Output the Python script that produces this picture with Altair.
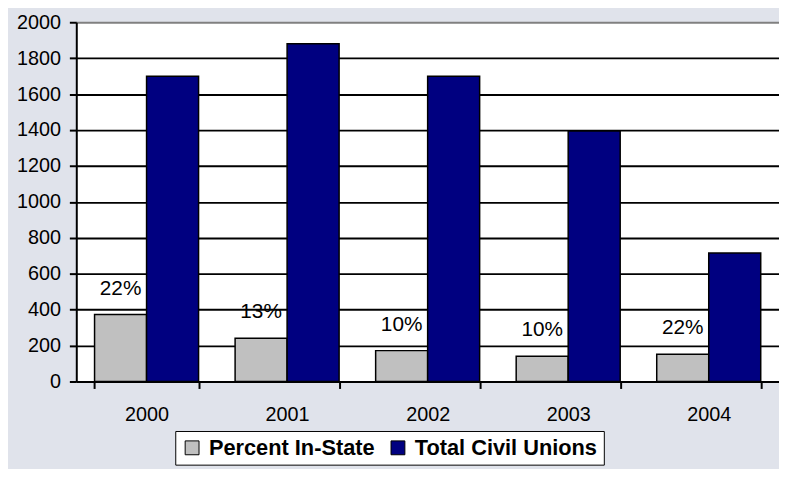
import altair as alt
import pandas as pd

years = ["2000", "2001", "2002", "2003", "2004"]
percent_in_state = [373, 241, 172, 141, 152]
total_civil_unions = [1700, 1880, 1700, 1395, 715]
percent_labels = ["22%", "13%", "10%", "10%", "22%"]
series_names = ["Percent In-State", "Total Civil Unions"]
series_colors = ["#C0C0C0", "#000080"]
y_ticks = list(range(0, 2001, 200))

rows = []
for i, yr in enumerate(years):
    rows.append({"year": yr, "series": series_names[0], "value": percent_in_state[i], "label": percent_labels[i]})
    rows.append({"year": yr, "series": series_names[1], "value": total_civil_unions[i], "label": ""})
df = pd.DataFrame(rows)

FONT = "Liberation Sans"

x_enc = alt.X(
    "year:N", title=None, sort=years,
    scale=alt.Scale(paddingInner=0.26, paddingOuter=0.13),
    axis=alt.Axis(labelAngle=0, tickBand="extent", domainColor="black", domainWidth=2,
                  tickColor="black", tickWidth=2, tickSize=7, labelPadding=16,
                  labelFontSize=20, labelColor="black", labelFont=FONT),
)
xo_enc = alt.XOffset("series:N", sort=series_names, scale=alt.Scale(paddingInner=0, paddingOuter=0))
y_axis = alt.Axis(values=y_ticks, tickCount=len(y_ticks), format="d", labelOverlap=False, grid=True,
                  gridColor={"condition": {"test": "datum.value === 2000", "value": "#808080"}, "value": "black"},
                  gridWidth=2, domainColor="black", domainWidth=2, tickColor="black", tickWidth=2,
                  tickSize=7, labelPadding=9, labelFontSize=20, labelColor="black", labelFont=FONT)
y_enc = alt.Y("value:Q", title=None, scale=alt.Scale(domain=[0, 2000], nice=False), axis=y_axis)
color_enc = alt.Color(
    "series:N", sort=series_names,
    scale=alt.Scale(domain=series_names, range=series_colors),
    legend=alt.Legend(title=None, orient="none", legendX=100, legendY=413, direction="horizontal",
                      padding=6, strokeColor="black", fillColor="white", labelFont=FONT,
                      labelFontWeight="bold", labelFontSize=22, labelColor="black", labelLimit=500,
                      symbolType="square", symbolSize=196, symbolStrokeColor="black",
                      symbolStrokeWidth=1, labelOffset=6, columnPadding=12, symbolOpacity=1),
)

bars = alt.Chart(df).mark_bar(stroke="black", strokeWidth=1.5).encode(
    x=x_enc, xOffset=xo_enc, y=y_enc, color=color_enc
)
text = alt.Chart(df).transform_filter("datum.label != ''").mark_text(
    dy=-26, fontSize=21, font=FONT, color="black"
).encode(
    x=alt.X("year:N", sort=years),
    xOffset=alt.XOffset("series:N", sort=series_names),
    y=alt.Y("value:Q", axis=y_axis),
    text="label:N",
)

chart = alt.layer(bars, text).properties(
    width=710, height=363,
    autosize=alt.AutoSizeParams(type="none"),
    padding={"left": 69, "top": 12, "right": 0, "bottom": 86},
    background="#E0E3EB",
).configure_view(fill="white", strokeWidth=0)

chart.save("out.html", embed_options={"renderer": "svg", "actions": False})
